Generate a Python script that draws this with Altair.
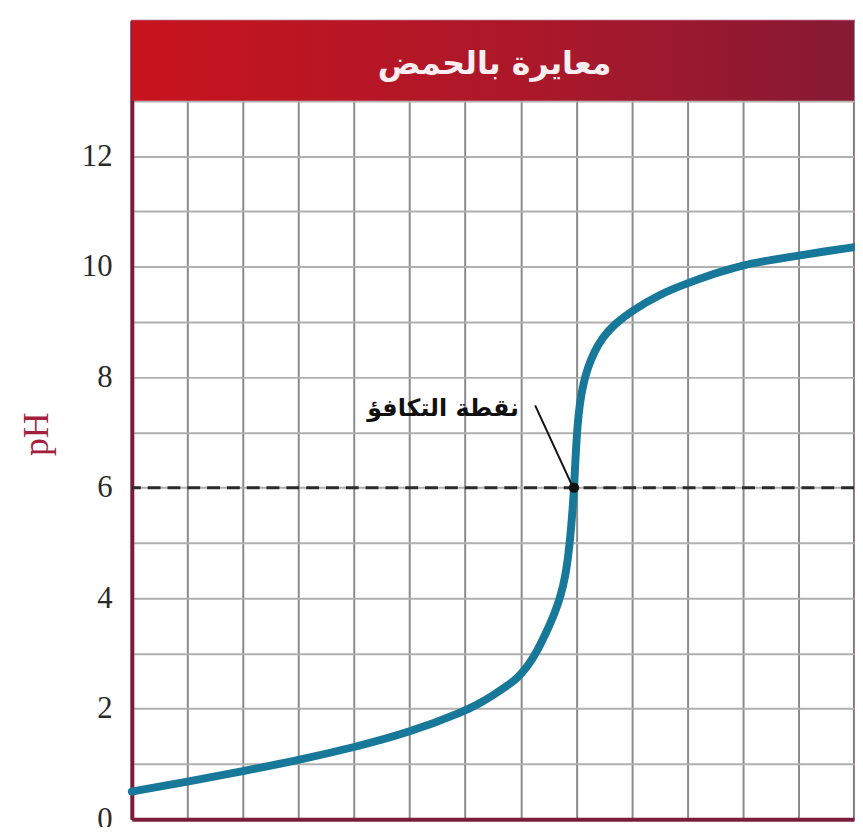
import altair as alt
import pandas as pd

# ---- data ----
volume = [0, 1, 2, 3, 4, 5, 6, 6.25, 6.5, 6.75, 6.9, 7.0, 7.15, 7.3, 7.45, 7.58, 7.68,
          7.76, 7.82, 7.87, 7.91, 7.94, 7.96, 7.99, 8.02, 8.06, 8.12, 8.2, 8.32, 8.47,
          8.7, 9, 9.5, 10, 10.5, 11, 11.5, 12, 12.5, 13]
ph = [0.5, 0.68, 0.87, 1.07, 1.3, 1.57, 1.96, 2.09, 2.24, 2.41, 2.52, 2.62, 2.8, 3.05,
      3.36, 3.65, 3.92, 4.2, 4.5, 4.88, 5.3, 5.68, 6.0, 6.6, 7.1, 7.5, 7.85, 8.15, 8.45,
      8.72, 8.97, 9.2, 9.5, 9.7, 9.88, 10.03, 10.12, 10.2, 10.28, 10.35]

y_ticks = [0, 2, 4, 6, 8, 10, 12]
grid_y = list(range(0, 14))
grid_x = list(range(0, 14))

title_text = "معايرة بالحمض"
label_text = "نقطة التكافؤ"
equiv_x = [7.96]
equiv_ph = [6.0]
leader = {"x": [7.26], "x2": [7.92], "y": [7.49], "y2": [6.05]}
label_pos = {"x": [6.97], "y": [7.42]}
header = {"x": [0], "x2": [13], "y": [13], "y2": [14.45]}
header_label = {"x": [6.53], "y": [13.66]}

X_DOMAIN = [0, 13]
Y_DOMAIN = [0, 14.45]

xs = alt.Scale(domain=X_DOMAIN, nice=False, zero=False)
ys = alt.Scale(domain=Y_DOMAIN, nice=False, zero=False)

curve_df = pd.DataFrame({"v": volume, "ph": ph})

label_expr = "indexof([0,2,4,6,8,10,12], datum.value) >= 0 ? datum.label : ''"

curve = alt.Chart(curve_df).mark_line(
    color="#17789a", strokeWidth=8, interpolate="basis", strokeCap="round"
).encode(
    x=alt.X("v:Q", scale=xs, axis=alt.Axis(
        values=grid_x, labels=False, ticks=False, title=None, grid=True,
        gridColor="#8a8a8a", gridWidth=2, domainColor="#7b1d3a", domainWidth=4)),
    y=alt.Y("ph:Q", scale=ys, axis=alt.Axis(
        values=grid_y, labelExpr=label_expr, format="d", ticks=False, grid=True,
        gridColor="#b0b0b0", gridWidth=2, domainColor="#7b1d3a", domainWidth=4,
        labelFont="Liberation Serif", labelFontSize=31, labelColor="#2a2a2a",
        labelPadding=20, title="pH", titleFont="Liberation Serif",
        titleFontSize=36, titleFontWeight="normal", titleColor="#a3213e",
        titleAngle=-90, titleX=-96, titleY=417, titleAlign="center",
        titleBaseline="middle")),
)

gradient = alt.Gradient(
    gradient="linear",
    stops=[alt.GradientStop(color="#c8141e", offset=0),
           alt.GradientStop(color="#a8182b", offset=0.6),
           alt.GradientStop(color="#861a34", offset=1)],
    x1=0, x2=1, y1=0, y2=0,
)

header_rect = alt.Chart(pd.DataFrame(header)).mark_rect(fill=gradient).encode(
    x=alt.X("x:Q", scale=xs), x2="x2:Q",
    y=alt.Y("y:Q", scale=ys), y2="y2:Q",
)

header_txt = alt.Chart(pd.DataFrame(header_label)).mark_text(
    text=title_text, font="DejaVu Sans", fontSize=32, fontWeight="bold",
    color="#fbeef0", align="center", baseline="middle"
).encode(x=alt.X("x:Q", scale=xs), y=alt.Y("y:Q", scale=ys))

dash = alt.Chart(pd.DataFrame({"y": equiv_ph})).mark_rule(
    color="#2b2b2b", strokeWidth=3, strokeDash=[13, 7]
).encode(y=alt.Y("y:Q", scale=ys))

lead = alt.Chart(pd.DataFrame(leader)).mark_rule(color="#111111", strokeWidth=2).encode(
    x=alt.X("x:Q", scale=xs), x2="x2:Q",
    y=alt.Y("y:Q", scale=ys), y2="y2:Q",
)

dot = alt.Chart(pd.DataFrame({"x": equiv_x, "y": equiv_ph})).mark_point(
    filled=True, color="#111111", size=110, opacity=1
).encode(x=alt.X("x:Q", scale=xs), y=alt.Y("y:Q", scale=ys))

label = alt.Chart(pd.DataFrame(label_pos)).mark_text(
    text=label_text, font="DejaVu Sans", fontSize=24, fontWeight="bold",
    color="#111111", align="right", baseline="middle"
).encode(x=alt.X("x:Q", scale=xs), y=alt.Y("y:Q", scale=ys))

chart = alt.layer(curve, header_rect, header_txt, dash, lead, dot, label).properties(
    width=729, height=806,
    autosize=alt.AutoSizeParams(type="none"),
    padding={"left": 125, "top": 9, "right": 1, "bottom": 4},
).configure_view(stroke="#b04a68", strokeWidth=2)

chart.save("out.html", embed_options={"renderer": "svg", "actions": False})
